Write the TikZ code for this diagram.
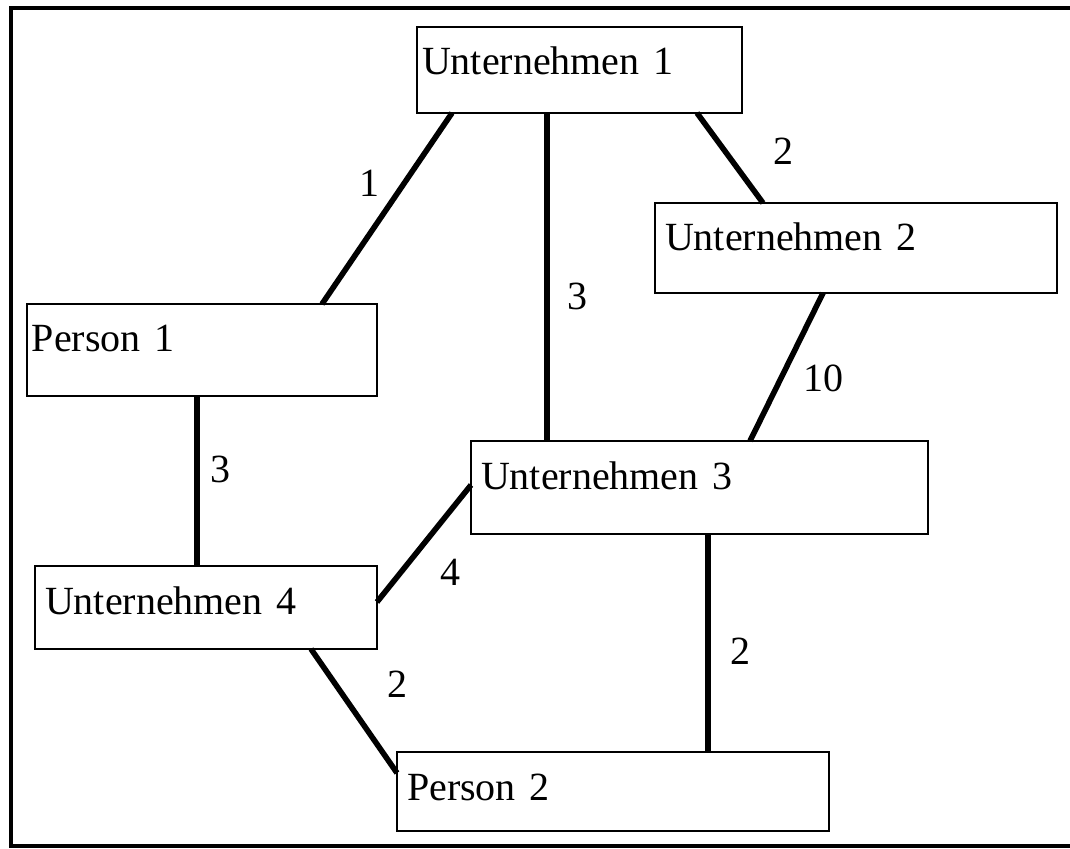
\documentclass[tikz,border=0pt]{standalone}
\usepackage{fontspec}
\setmainfont{Liberation Serif}
\usetikzlibrary{positioning}

\begin{document}
\begin{tikzpicture}[x=0.5pt, y=-0.5pt,
    box/.style={rectangle, draw=black, line width=1.2pt, anchor=north west,
                outer sep=0pt, inner ysep=0pt, inner xsep=5pt, text height=24pt,
                align=left, font=\fontsize{20pt}{24pt}\selectfont},
    link/.style={line width=2.8pt, black},
    wt/.style={font=\fontsize{20pt}{24pt}\selectfont, inner sep=0pt}
  ]
  \useasboundingbox (0,0) rectangle (1070,849);
  \draw[line width=1.6pt] (1070,8) -- (11,8) -- (11,846) -- (1070,846);

  % Knoten
  \node[box, inner xsep=2.5pt, text width=157.5pt, text depth=19pt] (u1) at (417,27) {Unternehmen 1};
  \node[box, text width=191pt, text depth=21pt] (u2) at (655,203) {Unternehmen 2};
  \node[box, inner xsep=2.5pt, text width=170pt, text depth=22pt] (p1) at (27,304) {Person 1};
  \node[box, text width=218.5pt, text depth=22.5pt] (u3) at (471,441) {Unternehmen 3};
  \node[box, text width=161pt, text depth=17.5pt] (u4) at (35,566) {Unternehmen 4};
  \node[box, text width=206pt, text depth=15.5pt] (p2) at (397,752) {Person 2};

  % Kanten
  \draw[link] ([xshift=17.5pt]u1.south west) --
        node[wt, pos=0.37, xshift=-17pt] (w1) {1} ([xshift=147.5pt]p1.north west);
  \draw[link] ([xshift=65pt]u1.south west) --
        node[wt, pos=0.56, xshift=15pt] (w2) {3} ([xshift=38pt]u3.north west);
  \draw[link] ([xshift=140pt]u1.south west) --
        node[wt, pos=0.43, xshift=29pt] (w3) {2} ([xshift=54pt]u2.north west);
  \draw[link] ([xshift=84pt]u2.south west) --
        node[wt, pos=0.574, xshift=21pt] (w4) {10} ([xshift=139.5pt]u3.north west);
  \draw[link] ([xshift=85pt]p1.south west) --
        node[wt, pos=0.435, xshift=11.5pt] (w5) {3} ([xshift=81pt]u4.north west);
  \draw[link] ([yshift=-22pt]u3.north west) --
        node[wt, pos=0.75, xshift=25pt] (w6) {4} ([yshift=-18pt]u4.north east);
  \draw[link] ([xshift=138pt]u4.south west) --
        node[wt, pos=0.285, xshift=31pt] (w7) {2} ([yshift=-10.5pt]p2.north west);
  \draw[link] ([xshift=118.5pt]u3.south west) --
        node[wt, pos=0.54, xshift=16pt] (w8) {2} ([xshift=155.5pt]p2.north west);
\end{tikzpicture}
\end{document}
